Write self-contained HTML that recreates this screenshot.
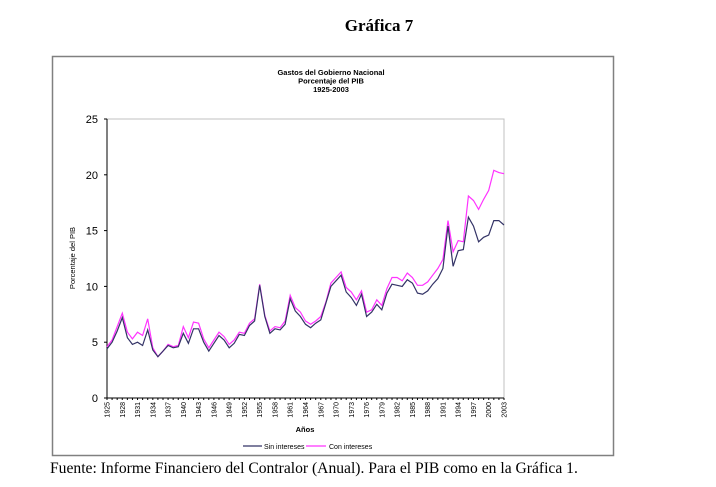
<!DOCTYPE html>
<html><head><meta charset="utf-8"><style>
body{margin:0;background:#fff;width:716px;height:482px;overflow:hidden}
</style></head><body>
<svg id="s" width="716" height="482" xmlns="http://www.w3.org/2000/svg" font-family="Liberation Sans, Arial, sans-serif">
<text x="379" y="31" text-anchor="middle" font-family="Liberation Serif, serif" font-weight="bold" font-size="17">Gráfica 7</text>
<rect x="52.5" y="56.5" width="561" height="399" fill="#fff" stroke="#808080" stroke-width="1.5"/>
<g font-size="7.5" font-weight="bold" text-anchor="middle">
<text x="331" y="75">Gastos del Gobierno Nacional</text>
<text x="331" y="83.5">Porcentaje del PIB</text>
<text x="331" y="92">1925-2003</text>
</g>
<rect x="107" y="119" width="397" height="279" fill="none" stroke="#c0c0c0" stroke-width="1"/>
<line x1="107" y1="119" x2="107" y2="398" stroke="#000"/>
<line x1="107" y1="398" x2="504" y2="398" stroke="#000"/>
<g font-size="11" text-anchor="end" id="yl"></g>
<text transform="translate(75,258) rotate(-90)" font-size="7.5" text-anchor="middle">Porcentaje del PIB</text>
<g id="xl" font-size="7" text-anchor="end"></g>
<text x="305" y="432" font-size="7.5" font-weight="bold" text-anchor="middle">Años</text>
<line x1="243" y1="446" x2="262" y2="446" stroke="#333366" stroke-width="1.2"/>
<text x="264" y="449" font-size="7">Sin intereses</text>
<line x1="306" y1="446" x2="326" y2="446" stroke="#ff33ff" stroke-width="1.2"/>
<text x="329" y="449" font-size="7">Con intereses</text>
<polyline id="p2" fill="none" stroke="#ff33ff" stroke-width="1.2"/>
<polyline id="p1" fill="none" stroke="#333366" stroke-width="1.2"/>
<text x="50" y="473" font-family="Liberation Serif, serif" font-size="15.6">Fuente: Informe Financiero del Contralor (Anual). Para el PIB como en la Gráfica 1.</text>
</svg>
<script>
var sin=[4.4,5.0,6.0,7.2,5.4,4.8,5.0,4.7,6.1,4.3,3.7,4.2,4.7,4.5,4.6,5.8,4.9,6.2,6.2,5.0,4.2,4.9,5.6,5.2,4.5,4.9,5.7,5.6,6.5,6.9,10.1,7.3,5.8,6.2,6.1,6.6,8.9,7.8,7.3,6.6,6.3,6.7,7.0,8.5,10.0,10.5,11.0,9.5,9.0,8.3,9.3,7.3,7.7,8.4,7.9,9.4,10.2,10.1,10.0,10.6,10.3,9.4,9.3,9.6,10.2,10.7,11.6,15.4,11.8,13.2,13.3,16.2,15.4,14.0,14.4,14.6,15.9,15.9,15.5];
var con=[4.6,5.2,6.4,7.6,5.9,5.3,5.9,5.6,7.1,4.5,3.7,4.2,4.8,4.6,4.7,6.4,5.4,6.8,6.7,5.3,4.5,5.2,5.9,5.5,4.8,5.2,5.9,5.8,6.7,7.1,10.2,7.4,6.0,6.4,6.3,6.9,9.2,8.1,7.7,6.9,6.6,6.9,7.3,8.6,10.3,10.8,11.3,9.9,9.5,8.8,9.6,7.7,7.9,8.8,8.3,9.8,10.8,10.8,10.5,11.2,10.8,10.1,10.1,10.4,11.0,11.6,12.4,15.9,13.1,14.1,14.0,18.1,17.7,16.9,17.8,18.6,20.4,20.2,20.1];
function X(i){return 107+i*397/78}function Y(v){return 398-v*279/25}
function pts(a){return a.map(function(v,i){return X(i).toFixed(1)+','+Y(v).toFixed(1)}).join(' ')}
document.getElementById('p1').setAttribute('points',pts(sin));
document.getElementById('p2').setAttribute('points',pts(con));
var ns='http://www.w3.org/2000/svg',yl=document.getElementById('yl'),xl=document.getElementById('xl'),s=document.getElementById('s');
for(var v=0;v<=25;v+=5){var t=document.createElementNS(ns,'text');t.setAttribute('x',98);t.setAttribute('y',Y(v)+4);t.textContent=v;yl.appendChild(t);
var l=document.createElementNS(ns,'line');l.setAttribute('x1',104);l.setAttribute('x2',107);l.setAttribute('y1',Y(v));l.setAttribute('y2',Y(v));l.setAttribute('stroke','#000');s.appendChild(l);}
for(var i=0;i<79;i++){var l=document.createElementNS(ns,'line');l.setAttribute('x1',X(i));l.setAttribute('x2',X(i));l.setAttribute('y1',398);l.setAttribute('y2',400);l.setAttribute('stroke','#000');s.appendChild(l);
if(i%3==0||i==78){var t=document.createElementNS(ns,'text');var x=X(i)+2.5;t.setAttribute('transform','translate('+x+',402) rotate(-90)');t.textContent=1925+i;xl.appendChild(t);}}
</script>
</body></html>
